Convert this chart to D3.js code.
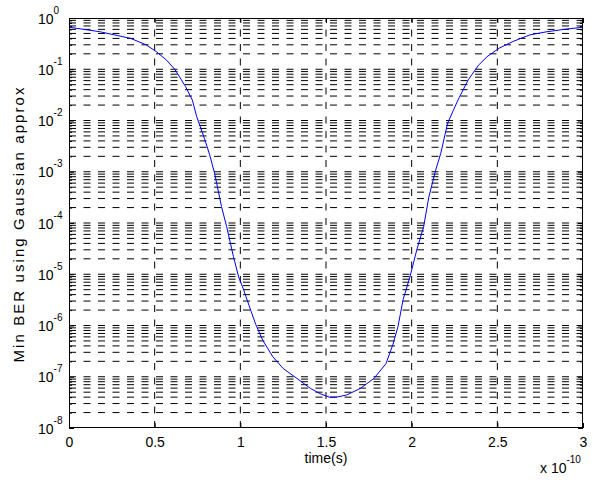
<!DOCTYPE html>
<html>
<head>
<meta charset="utf-8">
<script src="https://cdn.jsdelivr.net/npm/d3@7"></script>
<style>
  html, body { margin: 0; padding: 0; background: #fff; }
  svg text { font-family: "Liberation Sans", Arial, Helvetica, sans-serif; fill: #000; }
</style>
</head>
<body>
<svg id="chart" width="593" height="482"></svg>
<script>
// ---- data (time in units of 1e-10 s, BER values) ----
const timeScaled = [0, 0.18, 0.36, 0.45, 0.51, 0.57, 0.62, 0.68, 0.72, 0.745, 0.79, 0.82, 0.85, 0.89, 0.92, 0.96, 0.99, 1.02, 1.06, 1.09, 1.13, 1.19, 1.25, 1.33, 1.41, 1.47, 1.52, 1.56, 1.62, 1.70, 1.78, 1.85, 1.89, 1.92, 1.95, 1.99, 2.03, 2.07, 2.10, 2.14, 2.17, 2.21, 2.27, 2.33, 2.39, 2.44, 2.51, 2.59, 2.69, 2.79, 2.89, 3.0];
const minBER = [0.66, 0.54, 0.40, 0.30, 0.22, 0.15, 0.097, 0.046, 0.025, 0.012, 4.5e-3, 2.2e-3, 9.3e-4, 2.1e-4, 8.5e-5, 2.2e-5, 8.9e-6, 4.9e-6, 2.0e-6, 1.05e-6, 5.2e-7, 2.45e-7, 1.45e-7, 9.3e-8, 5.9e-8, 4.6e-8, 4.0e-8, 4.0e-8, 4.4e-8, 5.9e-8, 9.3e-8, 1.8e-7, 4.2e-7, 9.5e-7, 3.2e-6, 8.9e-6, 3.0e-5, 8.5e-5, 3.2e-4, 1.07e-3, 2.3e-3, 8.9e-3, 0.025, 0.062, 0.12, 0.176, 0.257, 0.347, 0.468, 0.54, 0.60, 0.66];
const timeExponent = -10;
const xTicks = [0, 0.5, 1, 1.5, 2, 2.5, 3];
const xTickLabels = ["0", "0.5", "1", "1.5", "2", "2.5", "3"];
const yDecadeExps = [-8, -7, -6, -5, -4, -3, -2, -1, 0];
const xLabel = "time(s)";
const yLabel = "Min BER using Gaussian approx";

// ---- layout ----
const W = 593, H = 482;
const m = { left: 69, right: 10, top: 18, bottom: 54 };
const svg = d3.select("#chart");
svg.append("rect").attr("width", W).attr("height", H).attr("fill", "#fff");

const x = d3.scaleLinear().domain([0, 3]).range([m.left, W - m.right]);
const y = d3.scaleLog().domain([1e-8, 1]).range([H - m.bottom, m.top]);
const x0 = x.range()[0], x1 = x.range()[1], y0 = y.range()[0], y1 = y.range()[1];

const decades = yDecadeExps.map(e => Math.pow(10, e));
const minors = [];
yDecadeExps.slice(0, -1).forEach(e => { for (let k = 2; k <= 9; k++) minors.push(k * Math.pow(10, e)); });

const dash = "7,7.5";
const g = svg.append("g");

// grid: horizontal (minor + major)
g.selectAll("line.hgrid").data(minors.concat(decades.slice(1, -1))).enter().append("line")
  .attr("x1", x0).attr("x2", x1).attr("y1", d => y(d)).attr("y2", d => y(d))
  .attr("stroke", "#000").attr("stroke-width", 1).attr("stroke-dasharray", dash);
// grid: vertical
g.selectAll("line.vgrid").data(xTicks.slice(1, -1)).enter().append("line")
  .attr("x1", d => x(d)).attr("x2", d => x(d)).attr("y1", y0).attr("y2", y1)
  .attr("stroke", "#000").attr("stroke-width", 1).attr("stroke-dasharray", dash);

// curve
const line = d3.line().x((d, i) => x(timeScaled[i])).y(d => y(d));
g.append("path").datum(minBER).attr("d", line)
  .attr("fill", "none").attr("stroke", "#0000ff").attr("stroke-width", 1);

// axes
const xb = svg.append("g").attr("transform", `translate(0,${y0})`)
  .call(d3.axisBottom(x).tickValues(xTicks).tickFormat((d, i) => xTickLabels[i]).tickSizeInner(-5).tickSizeOuter(0).tickPadding(9));
const xt = svg.append("g").attr("transform", `translate(0,${y1})`)
  .call(d3.axisTop(x).tickValues(xTicks).tickFormat("").tickSizeInner(-5).tickSizeOuter(0));
const yl = svg.append("g").attr("transform", `translate(${x0},0)`)
  .call(d3.axisLeft(y).tickValues(decades).tickFormat("").tickSizeInner(-5).tickSizeOuter(0));
const ylm = svg.append("g").attr("transform", `translate(${x0},0)`)
  .call(d3.axisLeft(y).tickValues(minors).tickFormat("").tickSizeInner(-3).tickSizeOuter(0));
const yr = svg.append("g").attr("transform", `translate(${x1},0)`)
  .call(d3.axisRight(y).tickValues(decades).tickFormat("").tickSizeInner(-5).tickSizeOuter(0));
const yrm = svg.append("g").attr("transform", `translate(${x1},0)`)
  .call(d3.axisRight(y).tickValues(minors).tickFormat("").tickSizeInner(-3).tickSizeOuter(0));

[xb, xt, yl, ylm, yr, yrm].forEach(a => {
  a.select(".domain").remove();
  a.selectAll(".tick line").attr("stroke", "#000");
});
xb.selectAll(".tick text").attr("font-size", 14).attr("font-family", null).attr("fill", "#000");

// y tick labels with superscripts
yl.selectAll(".tick text").each(function (d) {
  const t = d3.select(this).text(null).attr("text-anchor", "start").attr("x", -31).attr("dy", null)
    .attr("y", 5).attr("font-size", 14).attr("font-family", null);
  t.append("tspan").text("10");
  t.append("tspan").attr("font-size", 10).attr("dy", -10).text(String(Math.round(Math.log10(d))));
});

// box
svg.append("rect").attr("x", x0 + 0.5).attr("y", y1 + 0.5).attr("width", x1 - x0 - 1).attr("height", y0 - y1 - 1)
  .attr("fill", "none").attr("stroke", "#000").attr("stroke-width", 1);

// labels
svg.append("text").attr("x", (x0 + x1) / 2).attr("y", 463).attr("text-anchor", "middle")
  .attr("font-size", 14).text(xLabel);
svg.append("text").attr("transform", `translate(24,225) rotate(-90)`).attr("text-anchor", "middle")
  .attr("font-size", 15).attr("textLength", 275).attr("lengthAdjust", "spacing").text(yLabel);
const ex = svg.append("text").attr("x", 540).attr("y", 473).attr("font-size", 14);
ex.append("tspan").text("x 10");
ex.append("tspan").attr("font-size", 10).attr("dy", -10).text(String(timeExponent));
</script>
</body>
</html>
